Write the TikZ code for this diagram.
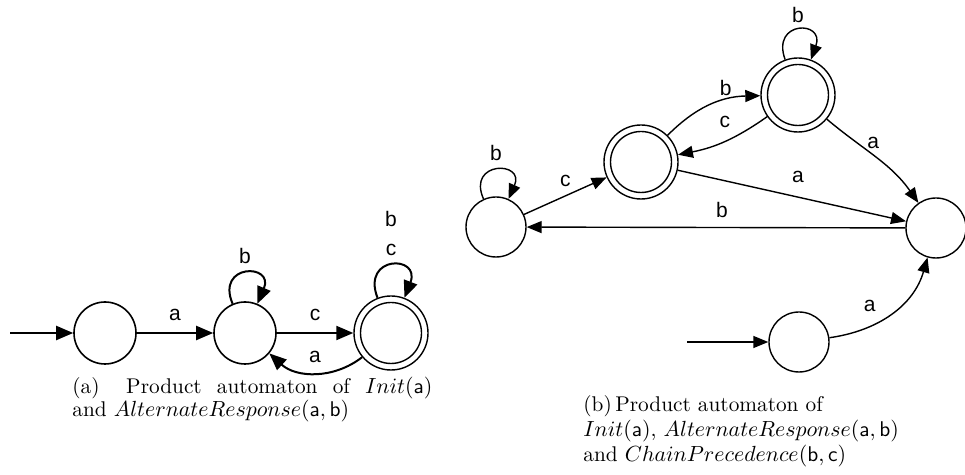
\documentclass[tikz,border=0pt]{standalone}
\usepackage{fontspec}
\newfontfamily\lblfont{Liberation Sans}
\usetikzlibrary{arrows.meta}
\begin{document}
\begin{tikzpicture}[x=0.5pt, y=-0.5pt,
  st/.style={circle, draw, line width=0.8pt, minimum size=31pt, inner sep=0pt},
  stb/.style={st, minimum size=30pt, line width=0.7pt},
  acc/.style={circle, draw, line width=0.7pt, minimum size=37pt, inner sep=0pt,
    path picture={\draw[line width=0.7pt] (path picture bounding box.center) circle[radius=15.25pt];}},
  ea/.style={line width=1pt, -{Triangle[length=8.5pt, width=7pt]}},
  eb/.style={line width=0.7pt, -{Triangle[length=7.5pt, width=6pt]}},
  lbl/.style={font=\lblfont\fontsize{10.5}{12}\selectfont, inner sep=4.5pt, text height=7pt, text depth=0pt},
  captxt/.style={anchor=base west, inner sep=0pt, font=\fontsize{10.65}{12.5}\selectfont}]
\useasboundingbox (0,0) rectangle (965,475);
% ---------- (a) ----------
\coordinate (a0) at (10,333);
\node[st] (A1) at (105,333) {};
\node[st] (A2) at (245,333) {};
\node[acc] (A3) at (391,333) {};
\draw[ea] (a0) -- (A1);
\draw[ea] (A1) -- node[lbl, above, yshift=1pt] {a} (A2);
\draw[ea] (A2) -- node[lbl, above, yshift=1pt] {c} (A3);
\draw[ea] (A3) to[bend left=40] node[lbl, above] {a} (A2);
\draw[ea] (A2) to[out=113, in=67, looseness=1, min distance=22pt] node[lbl, above] {b} (A2);
\draw[ea] (A3) to[out=111, in=69, looseness=1, min distance=23pt] node[lbl, above] (lc3) {c} (A3);
\node[lbl, anchor=south] (lb3) at ([yshift=-2pt]lc3.north) {b};
\node[captxt] (capa1) at (72,394) {\makebox[180pt][s]{(a)\hspace{6pt plus 1.7fill}Product\hspace{3.3pt plus 1fill}automaton\hspace{3.3pt plus 1fill}of\hspace{3.3pt plus 1fill}$Init(\mathsf{a})$}};
\node[captxt] (capa2) at (72,417) {and $AlternateResponse(\mathsf{a},\mathsf{b})$};
% ---------- (b) ----------
\coordinate (b0) at (687,342);
\node[stb] (B1) at (496,227) {};
\node[acc] (B2) at (641,162) {};
\node[acc] (B3) at (798,95) {};
\node[stb] (B4) at (936,228) {};
\node[stb] (B5) at (799,342) {};
\draw[eb] (b0) -- (B5);
\draw[eb] (B1) to[out=114, in=66, looseness=1, min distance=21pt] node[lbl, above] {b} (B1);
\draw[eb] (B1) -- node[lbl, above] {c} (B2);
\draw[eb] (B2) to[bend left=22] node[lbl, above, xshift=8pt] {b} (B3);
\draw[eb] (B3) to[bend left=12] node[lbl, above, yshift=2pt] {c} (B2);
\draw[eb] (B3) to[out=110, in=70, looseness=1, min distance=21pt] node[lbl, above, yshift=-1pt] {b} (B3);
\draw[eb] (B3) to[out=-40, in=125] node[lbl, midway, xshift=-1.5pt, yshift=8pt] {a} (B4);
\draw[eb] (B2) -- node[lbl, above, xshift=3pt, yshift=2pt] {a} (B4);
\draw[eb] (B4) -- node[lbl, above, xshift=3pt] {b} (B1);
\draw[eb] (B5) to[out=8, in=-106] node[lbl, midway, xshift=-11pt, yshift=4pt] {a} (B4);
\node[captxt] (capb1) at (583,412) {(b)\,Product automaton of};
\node[captxt] (capb2) at (583,437) {$Init(\mathsf{a})$, $AlternateResponse(\mathsf{a},\mathsf{b})$};
\node[captxt] (capb3) at (583,462) {and $ChainPrecedence(\mathsf{b},\mathsf{c})$};
\end{tikzpicture}
\end{document}
